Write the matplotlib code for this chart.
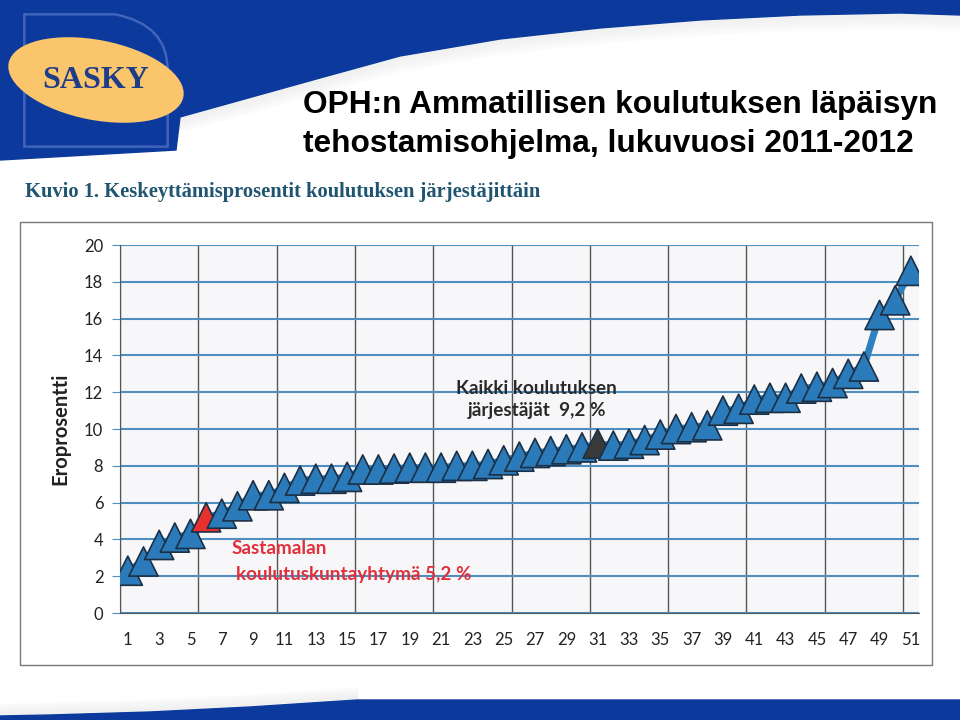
import numpy as np
import matplotlib.pyplot as plt
from matplotlib.patches import Ellipse, Polygon, Rectangle, PathPatch
from matplotlib.path import Path

# Keskeyttämisprosentit koulutuksen järjestäjittäin (luettu kuvasta)
jarjestajat = list(range(1, 52))
prosentit = [2.3, 2.8, 3.7, 4.1, 4.3, 5.2, 5.4, 5.8, 6.4, 6.4,
             6.8, 7.2, 7.3, 7.3, 7.4, 7.8, 7.8, 7.85, 7.9, 7.9,
             7.9, 8.0, 8.0, 8.1, 8.3, 8.5, 8.7, 8.8, 8.9, 9.0,
             9.2, 9.1, 9.2, 9.4, 9.7, 10.0, 10.1, 10.2, 11.0, 11.1,
             11.6, 11.7, 11.7, 12.2, 12.3, 12.5, 13.0, 13.4, 16.2, 17.0,
             18.6]
sastamala = 6      # punainen
kaikki = 31        # tumma, kaikki järjestäjät 9,2 %

x_tikit = list(range(1, 52, 2))
y_tikit = list(range(0, 21, 2))

SININEN = "#0b3a9c"

fig = plt.figure(figsize=(9.6, 7.2), dpi=100)

# --- tausta ja otsikkoalue (pikselikoordinaatit) ---
bg = fig.add_axes([0, 0, 1, 1])
bg.set_xlim(0, 960)
bg.set_ylim(720, 0)
bg.axis("off")

kaari = [(960, 15), (900, 13), (800, 15), (700, 20), (600, 28), (500, 39),
         (400, 56), (320, 78), (180, 117)]
# varjo kaaren alla
for k in range(1, 14):
    pts = [(x, y + k * 1.2) for x, y in kaari]
    bg.plot(*zip(*pts), color="#8a8a8a", alpha=0.06 * (1 - k / 15), lw=2,
            zorder=1)
ylapinta = [(0, 0), (960, 0)] + kaari + [(176, 150), (0, 160)]
bg.add_patch(Polygon(ylapinta, closed=True, color=SININEN, zorder=2))

# logon D-muoto
d_polku = Path([(25, 146), (25, 15), (115, 15), (167, 25), (167, 70),
                (167, 146), (25, 146)],
               [Path.MOVETO, Path.LINETO, Path.LINETO, Path.CURVE3, Path.CURVE3,
                Path.LINETO, Path.CLOSEPOLY])
bg.add_patch(PathPatch(d_polku, facecolor="none", edgecolor="#5d7bc8",
                       lw=2.5, alpha=0.8, zorder=3))
bg.add_patch(PathPatch(d_polku, facecolor=SININEN, edgecolor="#3b5fb8",
                       lw=1, zorder=3))
bg.add_patch(Ellipse((96, 80), 178, 80, angle=11, facecolor="#fbc56c",
                     edgecolor="none", zorder=4))
bg.text(96, 80, "SASKY", family="Liberation Serif", fontweight="bold",
        fontsize=23, color="#1f3c88", ha="center", va="center", zorder=5)

bg.text(303, 113, "OPH:n Ammatillisen koulutuksen läpäisyn",
        family="Liberation Sans", fontweight="bold", fontsize=22.8,
        color="black", va="baseline", zorder=5)
bg.text(303, 152, "tehostamisohjelma, lukuvuosi 2011-2012",
        family="Liberation Sans", fontweight="bold", fontsize=22.8,
        color="black", va="baseline", zorder=5)
bg.text(25, 197, "Kuvio 1. Keskeyttämisprosentit koulutuksen järjestäjittäin",
        family="Liberation Serif", fontweight="bold", fontsize=14.8,
        color="#1f5570", va="baseline", zorder=5)

# alaosan nauha
alakaari = [(960, 700), (357, 700), (250, 707), (150, 712), (50, 715), (0, 716)]
for k in range(1, 12):
    pts = [(x, y - k * 1.1) for x, y in alakaari[1:]]
    bg.plot(*zip(*pts), color="#8a8a8a", alpha=0.06 * (1 - k / 13), lw=2,
            zorder=1)
bg.add_patch(Polygon(alakaari + [(0, 720), (960, 720)], closed=True,
                     color=SININEN, zorder=2))

# kaavion kehys
bg.add_patch(Rectangle((20, 222), 912, 443, fill=False, edgecolor="#777777",
                       lw=1, zorder=2))

# --- itse kaavio ---
ax = fig.add_axes([0.125, 0.1486, 0.832, 0.511])
ax.set_facecolor("#f7f7f9")

ax.plot(jarjestajat, prosentit, color="#2f80c0", lw=5, zorder=2)
varit = ["#2b7bba"] * len(jarjestajat)
varit[sastamala - 1] = "#e8302f"
varit[kaikki - 1] = "#3a3a3a"
ax.scatter(jarjestajat, prosentit, marker="^", s=21 ** 2, c=varit,
           edgecolors="#1b2f45", linewidths=1.2, zorder=3)

ax.set_xlim(0.5, 51.5)
ax.set_ylim(0, 20)
ax.set_xticks(x_tikit)
ax.set_xticks(np.arange(0.5, 51, 5), minor=True)
ax.set_yticks(y_tikit)
ax.grid(axis="y", which="major", color="#4f8fc0", lw=1.5, zorder=0)
ax.grid(axis="x", which="minor", color="#555555", lw=1, zorder=0)
ax.set_axisbelow(True)

ax.tick_params(axis="x", which="both", length=0, pad=14, labelsize=12,
               labelcolor="#222222")
ax.tick_params(axis="y", length=6, color="#4f8fc0", pad=6, labelsize=12,
               labelcolor="#222222")
for lab in ax.get_xticklabels() + ax.get_yticklabels():
    lab.set_family("Lato")

for s in ["top", "right"]:
    ax.spines[s].set_visible(False)
ax.spines["left"].set_color("#555555")
ax.spines["bottom"].set_color("#555555")

ax.text(-0.075, 0.5, "Eroprosentti", transform=ax.transAxes, rotation=90,
        family="Lato", fontweight="bold", fontsize=14.5, color="#222222",
        ha="center", va="center")

ax.text(27.1, 11.6, "Kaikki koulutuksen\njärjestäjät  9,2 %", family="Lato",
        fontweight="bold", fontsize=13.6, color="#2a2a2a", ha="center",
        va="center", linespacing=1.4)
ax.text(7.65, 3.53, "Sastamalan", family="Lato", fontweight="bold",
        fontsize=13.6, color="#e0303c", ha="left", va="center")
ax.text(7.9, 2.12, "koulutuskuntayhtymä 5,2 %", family="Lato",
        fontweight="bold", fontsize=13.6, color="#e0303c", ha="left",
        va="center")

fig.savefig("out.png", dpi=100)
